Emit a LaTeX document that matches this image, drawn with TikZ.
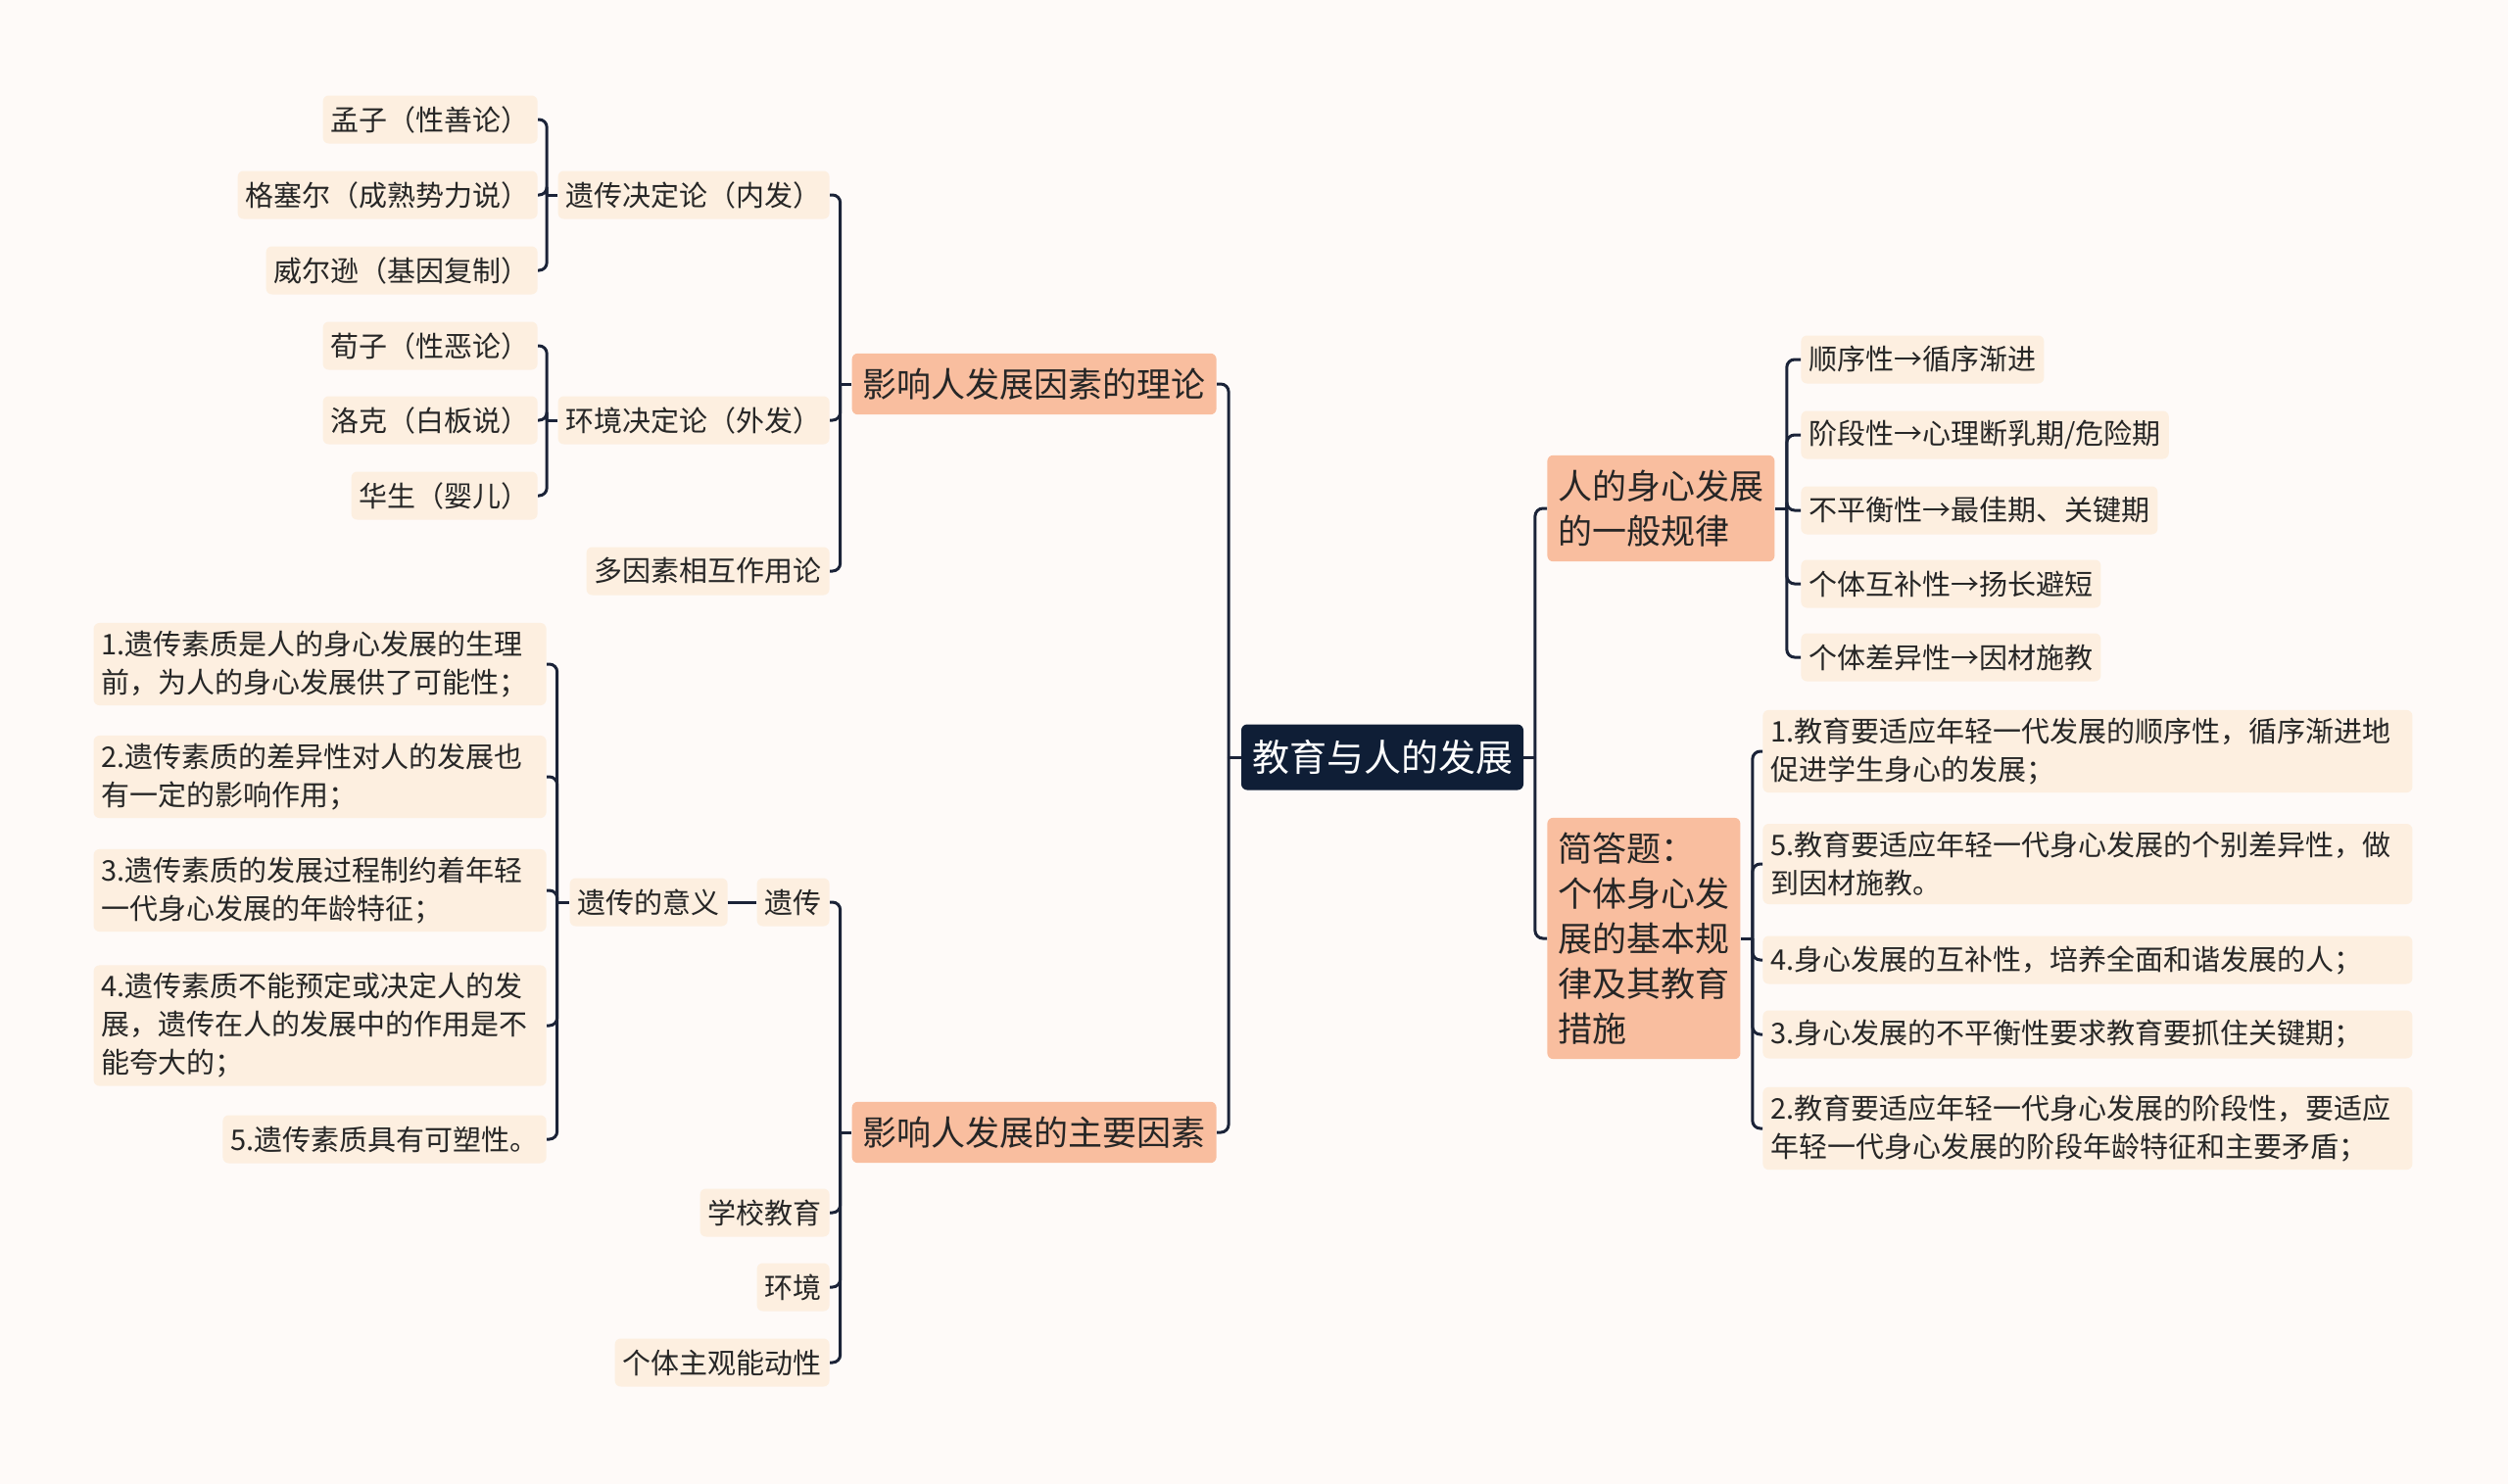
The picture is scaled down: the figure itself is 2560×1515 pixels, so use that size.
\documentclass[tikz,border=0pt]{standalone}
\usepackage{fontspec}
\setmainfont{Noto Sans CJK SC}
\usetikzlibrary{positioning}
\definecolor{Canvas}{HTML}{FEFAF8}
\definecolor{Navy}{HTML}{0F1E36}
\definecolor{Salmon}{HTML}{F9BE9F}
\definecolor{Cream}{HTML}{FDEFE0}
\definecolor{Wire}{HTML}{1B2338}
\definecolor{Ink}{HTML}{262626}

\begin{document}
\begin{tikzpicture}[x=0.5pt,y=-0.5pt,
    root/.style={fill=Navy,text=white,rounded corners=3pt,inner xsep=5.5pt,inner ysep=3pt,minimum height=33.5pt,font=\fontsize{19}{23}\selectfont},
    topic/.style={fill=Salmon,text=Ink,rounded corners=3pt,inner xsep=5.5pt,inner ysep=7.5pt,minimum height=31pt,align=left,font=\fontsize{17.5}{23}\selectfont},
    leaf/.style={fill=Cream,text=Ink,rounded corners=3pt,inner xsep=4pt,inner ysep=4pt,minimum height=24.5pt,align=left,font=\fontsize{14.5}{19.5}\selectfont},
    link/.style={draw=Wire,line width=1.5pt,rounded corners=4pt}]
    \useasboundingbox (0,0) rectangle (2560,1515);
    \fill[Canvas] (0,0) rectangle (2560,1515);

    % centre
    \node[root] (root) at (1411,773) {教育与人的发展};

    % left: theories
    \node[topic,anchor=east] (theory) at (1242,392) {影响人发展因素的理论};
    \node[leaf,anchor=east] (nature) at (847,199) {遗传决定论（内发）};
    \node[leaf,anchor=east] (nurture) at (847,429) {环境决定论（外发）};
    \node[leaf,anchor=east] (multi) at (847,583) {多因素相互作用论};
    \node[leaf,anchor=east] (mengzi) at (549,122) {孟子（性善论）};
    \node[leaf,anchor=east] (gesell) at (549,199) {格塞尔（成熟势力说）};
    \node[leaf,anchor=east] (wilson) at (549,276) {威尔逊（基因复制）};
    \node[leaf,anchor=east] (xunzi) at (549,353) {荀子（性恶论）};
    \node[leaf,anchor=east] (locke) at (549,429) {洛克（白板说）};
    \node[leaf,anchor=east] (watson) at (549,506) {华生（婴儿）};

    % left: factors
    \node[topic,anchor=east] (factors) at (1242,1156) {影响人发展的主要因素};
    \node[leaf,anchor=east] (heredity) at (847,921) {遗传};
    \node[leaf,anchor=east] (school) at (847,1238) {学校教育};
    \node[leaf,anchor=east] (env) at (847,1314) {环境};
    \node[leaf,anchor=east] (agency) at (847,1391) {个体主观能动性};
    \node[leaf,anchor=east] (meaning) at (743,921) {遗传的意义};
    \node[leaf,anchor=east,text width=223pt] (m1) at (558,678) {1.遗传素质是人的身心发展的生理\\前，为人的身心发展供了可能性；};
    \node[leaf,anchor=east,text width=223pt] (m2) at (558,793) {2.遗传素质的差异性对人的发展也\\有一定的影响作用；};
    \node[leaf,anchor=east,text width=223pt] (m3) at (558,909) {3.遗传素质的发展过程制约着年轻\\一代身心发展的年龄特征；};
    \node[leaf,anchor=east,text width=223pt] (m4) at (558,1047) {4.遗传素质不能预定或决定人的发\\展，遗传在人的发展中的作用是不\\能夸大的；};
    \node[leaf,anchor=east] (m5) at (558,1163) {5.遗传素质具有可塑性。};

    % right: rules
    \node[topic,anchor=west] (rules) at (1579,519) {人的身心发展\\的一般规律};
    \node[leaf,anchor=west] (r1) at (1838,367) {顺序性→循序渐进};
    \node[leaf,anchor=west] (r2) at (1838,444) {阶段性→心理断乳期/危险期};
    \node[leaf,anchor=west] (r3) at (1838,521) {不平衡性→最佳期、关键期};
    \node[leaf,anchor=west] (r4) at (1838,596) {个体互补性→扬长避短};
    \node[leaf,anchor=west] (r5) at (1838,671) {个体差异性→因材施教};

    % right: short answer
    \node[topic,anchor=west] (answer) at (1579,958) {简答题：\\个体身心发\\展的基本规\\律及其教育\\措施};
    \node[leaf,anchor=west,text width=323.5pt] (a1) at (1799,767) {1.教育要适应年轻一代发展的顺序性，循序渐进地\\促进学生身心的发展；};
    \node[leaf,anchor=west,text width=323.5pt] (a5) at (1799,882) {5.教育要适应年轻一代身心发展的个别差异性，做\\到因材施教。};
    \node[leaf,anchor=west,text width=323.5pt] (a4) at (1799,980) {4.身心发展的互补性，培养全面和谐发展的人；};
    \node[leaf,anchor=west,text width=323.5pt] (a3) at (1799,1056) {3.身心发展的不平衡性要求教育要抓住关键期；};
    \node[leaf,anchor=west,text width=323.5pt] (a2) at (1799,1152) {2.教育要适应年轻一代身心发展的阶段性，要适应\\年轻一代身心发展的阶段年龄特征和主要矛盾；};

    % connectors
    \draw[link] (root.west) -- ++(-12.5,0) coordinate (jL);
    \foreach \t in {theory,factors} \draw[link] (jL) |- (\t.east);
    \draw[link] (root.east) -- ++(11.5,0) coordinate (jR);
    \foreach \t in {rules,answer} \draw[link] (jR) |- (\t.west);

    \draw[link] (theory.west) -- ++(-11.5,0) coordinate (jT);
    \foreach \c in {nature,nurture,multi} \draw[link] (jT) |- (\c.east);
    \draw[link] (nature.west) -- ++(-11,0) coordinate (jN);
    \foreach \c in {mengzi,gesell,wilson} \draw[link] (jN) |- (\c.east);
    \draw[link] (nurture.west) -- ++(-11,0) coordinate (jE);
    \foreach \c in {xunzi,locke,watson} \draw[link] (jE) |- (\c.east);

    \draw[link] (factors.west) -- ++(-11.5,0) coordinate (jF);
    \foreach \c in {heredity,school,env,agency} \draw[link] (jF) |- (\c.east);
    \draw[link] (heredity.west) -- (meaning.east);
    \draw[link] (meaning.west) -- ++(-12.5,0) coordinate (jM);
    \foreach \c in {m1,m2,m3,m4,m5} \draw[link] (jM) |- (\c.east);

    \draw[link] (rules.east) -- ++(12,0) coordinate (jG);
    \foreach \c in {r1,r2,r3,r4,r5} \draw[link] (jG) |- (\c.west);
    \draw[link] (answer.east) -- ++(12,0) coordinate (jA);
    \foreach \c in {a1,a5,a4,a3,a2} \draw[link] (jA) |- (\c.west);
\end{tikzpicture}
\end{document}
